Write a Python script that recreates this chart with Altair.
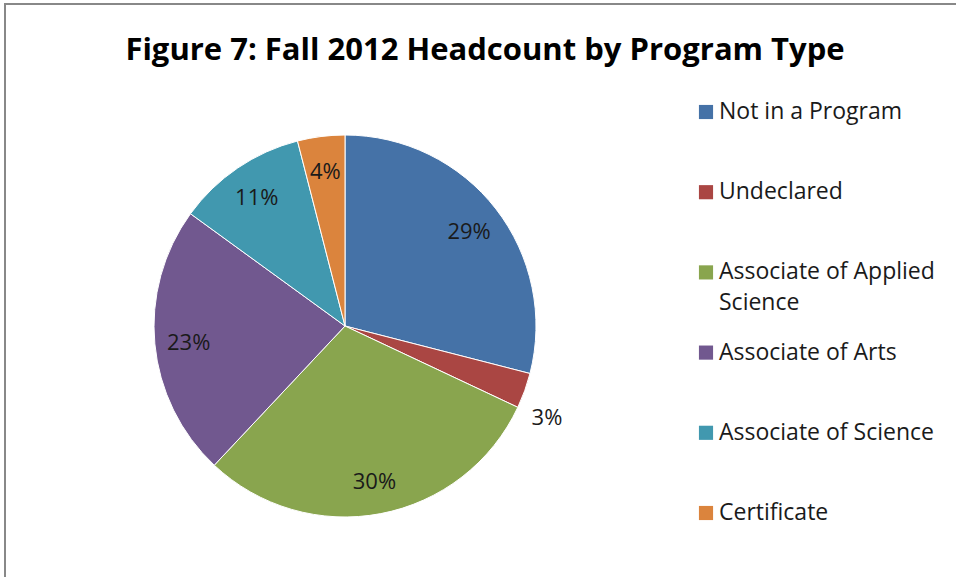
import altair as alt
import pandas as pd

# Fall 2012 headcount share by program type (percent)
categories = ["Not in a Program", "Undeclared", "Associate of Applied\nScience",
              "Associate of Arts", "Associate of Science", "Certificate"]
shares = [29, 3, 30, 23, 11, 4]
colors = ["#4572A7", "#AA4643", "#89A54E", "#71588F", "#4198AF", "#DB843D"]

df = pd.DataFrame({
    "category": categories,
    "pct": shares,
    "idx": list(range(len(categories))),
})

FONT = "Open Sans"
CX, CY, R = 345, 326, 191

color_scale = alt.Scale(domain=categories, range=colors)
theta_scale = alt.Scale(domain=[0, 100], range=[0, 6.283185307179586])

base = alt.Chart(df)

pie = base.mark_arc(radius=R, stroke="white", strokeWidth=1).encode(
    theta=alt.Theta("pct:Q", stack=True, scale=theta_scale),
    color=alt.Color("category:N", scale=color_scale, legend=None),
    order=alt.Order("idx:Q"),
    x=alt.value(CX),
    y=alt.value(CY),
)

labels_base = base.transform_window(
    cum="sum(pct)", sort=[alt.SortField("idx")], frame=[None, 0]
).transform_calculate(
    mid="datum.cum - datum.pct / 2",
    label="datum.pct + '%'",
)

inner_labels = labels_base.transform_filter("datum.pct >= 4").mark_text(
    radius=157, dy=2, font=FONT, fontSize=22, color="#1a1a1a"
).encode(
    theta=alt.Theta("mid:Q", stack=None, scale=theta_scale),
    text="label:N",
    x=alt.value(CX),
    y=alt.value(CY),
)

outer_labels = labels_base.transform_filter("datum.pct < 4").mark_text(
    radius=221, dx=-6, dy=17, font=FONT, fontSize=22, color="#1a1a1a"
).encode(
    theta=alt.Theta("mid:Q", stack=None, scale=theta_scale),
    text="label:N",
    x=alt.value(CX),
    y=alt.value(CY),
)

legend_y = alt.Y("idx:O", scale=alt.Scale(type="point", range=[112, 513], padding=0), axis=None)

legend_swatch = base.mark_square(size=200, opacity=1).encode(
    x=alt.value(706),
    y=legend_y,
    color=alt.Color("category:N", scale=color_scale, legend=None),
)

legend_text = base.mark_text(
    align="left", baseline="top", dy=-11, lineBreak="\n", lineHeight=31,
    font=FONT, fontSize=23, color="#1a1a1a"
).encode(
    x=alt.value(719),
    y=legend_y,
    text="category:N",
)

title = alt.Chart(pd.DataFrame({"t": ["Figure 7: Fall 2012 Headcount by Program Type"]})).mark_text(
    font=FONT, fontSize=31, fontWeight="bold", color="#000000", baseline="alphabetic"
).encode(x=alt.value(485), y=alt.value(60), text="t:N")

frame_top = alt.Chart(pd.DataFrame({"a": [0]})).mark_rule(color="#888888", strokeWidth=2).encode(
    x=alt.value(4), x2=alt.value(960), y=alt.value(4)
)
frame_left = alt.Chart(pd.DataFrame({"a": [0]})).mark_rule(color="#888888", strokeWidth=2).encode(
    x=alt.value(5), y=alt.value(3), y2=alt.value(580)
)

chart = alt.layer(
    pie, inner_labels, outer_labels, legend_swatch, legend_text, title, frame_top, frame_left
).properties(
    width=956, height=577, padding=0, autosize=alt.AutoSizeParams(type="none"),
    background="white",
).configure_view(stroke=None)

chart.save("out.html", embed_options={"renderer": "svg", "actions": False})
